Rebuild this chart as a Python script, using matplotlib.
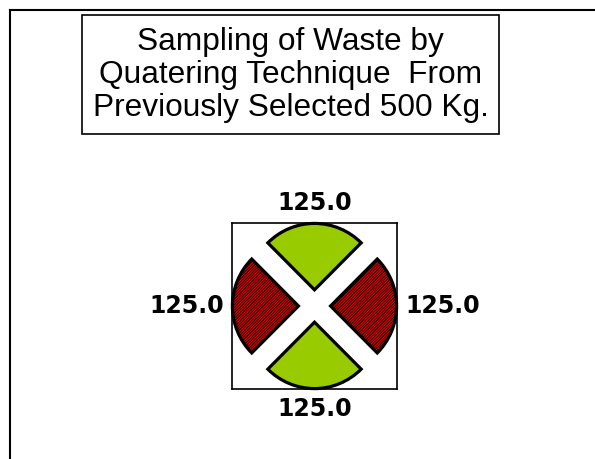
import matplotlib
matplotlib.use("Agg")
import matplotlib.pyplot as plt
from matplotlib.patches import Rectangle
from matplotlib.lines import Line2D

# quarters of the 500 kg sample
quarters = ["Top", "Left", "Bottom", "Right"]
weights = [125.0, 125.0, 125.0, 125.0]
colors = ["#99cc00", "#d00000", "#99cc00", "#d00000"]
hatches = [None, "////////////", None, "////////////"]
title_text = "Sampling of Waste by\nQuatering Technique  From\nPreviously Selected 500 Kg."

plt.rcParams["hatch.linewidth"] = 0.5

fig = plt.figure(figsize=(5.95, 4.59), dpi=100)
W, H = 595.0, 459.0

# outer chart border (only top and left visible)
fig.add_artist(Line2D([10 / W, 1.0], [1 - 10 / H, 1 - 10 / H], transform=fig.transFigure,
                      color="black", lw=1.5))
fig.add_artist(Line2D([10 / W, 10 / W], [0.0, 1 - 10 / H], transform=fig.transFigure,
                      color="black", lw=1.5))

# title box
fig.add_artist(Rectangle((82 / W, 1 - 134 / H), 417 / W, 119 / H, transform=fig.transFigure,
                         fill=False, edgecolor="black", lw=1.2))
fig.text(290.5 / W, 1 - 75 / H, title_text, ha="center", va="center",
         fontsize=22.8, family="Liberation Sans", linespacing=1.12)

# pie area
ax = fig.add_axes([232 / W, 1 - 389 / H, 165 / W, 166 / H])
wedges, texts = ax.pie(
    weights,
    labels=[f"{w:.1f}" for w in weights],
    colors=colors,
    startangle=45,
    radius=0.8,
    explode=[0.195] * len(weights),
    labeldistance=1.13,
    wedgeprops=dict(edgecolor="black", linewidth=2.3),
    textprops=dict(fontsize=17, fontweight="bold", family="DejaVu Sans"),
)
for w, h in zip(wedges, hatches):
    if h:
        w.set_hatch(h)

# keep numbers readable round the cross
texts[0].set_ha("center"); texts[0].set_va("bottom")
texts[2].set_ha("center"); texts[2].set_va("top")
texts[1].set_va("center"); texts[3].set_va("center")

ax.set_xlim(-1, 1)
ax.set_ylim(-1, 1)
ax.set_aspect("auto")
ax.set_frame_on(True)
ax.set_xticks([])
ax.set_yticks([])
for s in ax.spines.values():
    s.set_visible(True)
    s.set_linewidth(1.2)
    s.set_color("black")

fig.savefig("out.png", dpi=100)
